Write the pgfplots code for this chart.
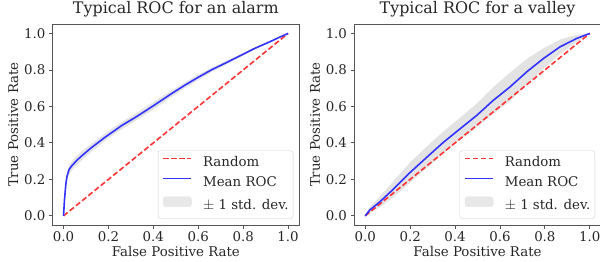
\documentclass[border=0pt]{standalone}
\usepackage{fontspec}
\setmainfont{DejaVu Serif}
\usepackage{pgfplots}
\pgfplotsset{compat=1.18}
\usepackage{pgfplotstable}
\usepgfplotslibrary{fillbetween}

\definecolor{spine}{HTML}{555555}
\definecolor{txt}{HTML}{262626}
\definecolor{rocred}{HTML}{FF3333}
\definecolor{rocblue}{HTML}{3333FF}
\definecolor{band}{HTML}{E3E3E3}
\definecolor{legframe}{HTML}{CCCCCC}

\pgfplotstableread{
x mean up lo
0.000 0.000 0.000 0.000
0.004 0.083 0.093 0.073
0.010 0.170 0.190 0.150
0.015 0.215 0.240 0.190
0.025 0.255 0.280 0.230
0.037 0.275 0.300 0.250
0.060 0.305 0.330 0.280
0.082 0.330 0.355 0.305
0.120 0.370 0.392 0.348
0.185 0.431 0.451 0.411
0.259 0.495 0.515 0.475
0.320 0.540 0.560 0.520
0.377 0.585 0.605 0.565
0.430 0.628 0.648 0.608
0.481 0.670 0.688 0.652
0.540 0.716 0.731 0.701
0.599 0.759 0.774 0.744
0.660 0.801 0.813 0.789
0.732 0.844 0.854 0.834
0.790 0.880 0.888 0.872
0.850 0.917 0.923 0.911
0.920 0.955 0.959 0.951
0.960 0.978 0.980 0.976
1.000 1.000 1.000 1.000
}\alarm

\pgfplotstableread{
x mean up lo
0.000 0.000 0.000 0.000
0.020 0.032 0.047 0.017
0.066 0.078 0.108 0.048
0.126 0.147 0.190 0.104
0.200 0.238 0.294 0.182
0.274 0.321 0.380 0.262
0.348 0.403 0.463 0.343
0.422 0.477 0.538 0.416
0.496 0.550 0.615 0.485
0.570 0.633 0.706 0.560
0.644 0.706 0.784 0.628
0.719 0.789 0.860 0.718
0.793 0.862 0.918 0.806
0.867 0.926 0.966 0.886
0.941 0.972 0.992 0.952
1.000 1.000 1.000 1.000
}\valley

\pgfplotsset{
  rocaxis/.style={
    scale only axis, width=247bp, height=200.7bp,
    xmin=-0.05, xmax=1.05, ymin=-0.05, ymax=1.05,
    xtick={0,0.2,0.4,0.6,0.8,1}, ytick={0,0.2,0.4,0.6,0.8,1},
    xticklabels={0.0,0.2,0.4,0.6,0.8,1.0},
    yticklabels={0.0,0.2,0.4,0.6,0.8,1.0},
    tick align=outside, tick pos=left, major tick length=3.5bp,
    every tick/.style={spine, line width=0.8bp},
    axis line style={spine, line width=0.8bp},
    /pgf/number format/assume math mode=true,
    ticklabel style={font=\fontsize{13.4}{13.4}\selectfont, text=txt},
    label style={font=\fontsize{13.4}{13.4}\selectfont, text=txt},
    title style={font=\fontsize{16}{16}\selectfont, text=txt, at={(0.5,1)}, anchor=base, yshift=4.5bp},
    xlabel style={at={(axis description cs:0.5,-0.133)}, anchor=center},
    ylabel style={at={(axis description cs:-0.158,0.5)}, anchor=center},
    legend cell align=left,
    legend style={at={(1,0)}, anchor=south east, xshift=-6bp, yshift=6.3bp,
      draw=legframe, rounded corners=2.5bp, fill=white, fill opacity=0.8, text opacity=1,
      font=\fontsize{13.4}{13.4}\selectfont, text=txt,
      inner xsep=4.5bp, inner ysep=6bp, row sep=7.6bp,
      nodes={inner sep=0bp, text height=9.8bp, text depth=2.6bp},
      /tikz/every odd column/.append style={column sep=11bp}},
    legend image code/.code={\draw[##1] (0bp,4.4bp) -- (28bp,4.4bp);},
  },
  randline/.style={rocred, line width=1.6bp, dash pattern=on 5.4bp off 2.6bp},
  meanline/.style={rocblue, line width=1.6bp},
}

\begin{document}
\begin{tikzpicture}
\begin{axis}[rocaxis, at={(52.3bp,-225bp)}, anchor=south west,
  title={Typical ROC for an alarm},
  xlabel={False Positive Rate}, ylabel={True Positive Rate}]
\addplot[name path=aup, draw=none, forget plot] table[x=x,y=up]{\alarm};
\addplot[name path=alo, draw=none, forget plot] table[x=x,y=lo]{\alarm};
\addplot[band, forget plot] fill between[of=aup and alo];
\addplot[randline] coordinates {(0,0) (1,1)};
\addlegendentry{Random}
\addplot[meanline] table[x=x,y=mean]{\alarm};
\addlegendentry{Mean ROC}
\addlegendimage{legend image code/.code={\fill[band] (0bp,-0.4bp) rectangle (28bp,9.4bp);}}
\addlegendentry{$\pm$ 1 std. dev.}
\end{axis}

\begin{axis}[rocaxis, at={(354bp,-225bp)}, anchor=south west,
  title={Typical ROC for a valley},
  xlabel={False Positive Rate}, ylabel={True Positive Rate}]
\addplot[name path=vup, draw=none, forget plot] table[x=x,y=up]{\valley};
\addplot[name path=vlo, draw=none, forget plot] table[x=x,y=lo]{\valley};
\addplot[band, forget plot] fill between[of=vup and vlo];
\addplot[randline] coordinates {(0,0) (1,1)};
\addlegendentry{Random}
\addplot[meanline] table[x=x,y=mean]{\valley};
\addlegendentry{Mean ROC}
\addlegendimage{legend image code/.code={\fill[band] (0bp,-0.4bp) rectangle (28bp,9.4bp);}}
\addlegendentry{$\pm$ 1 std. dev.}
\end{axis}
\pgfresetboundingbox
\path[use as bounding box] (0bp,0bp) rectangle (600bp,-262bp);
\end{tikzpicture}
\end{document}
